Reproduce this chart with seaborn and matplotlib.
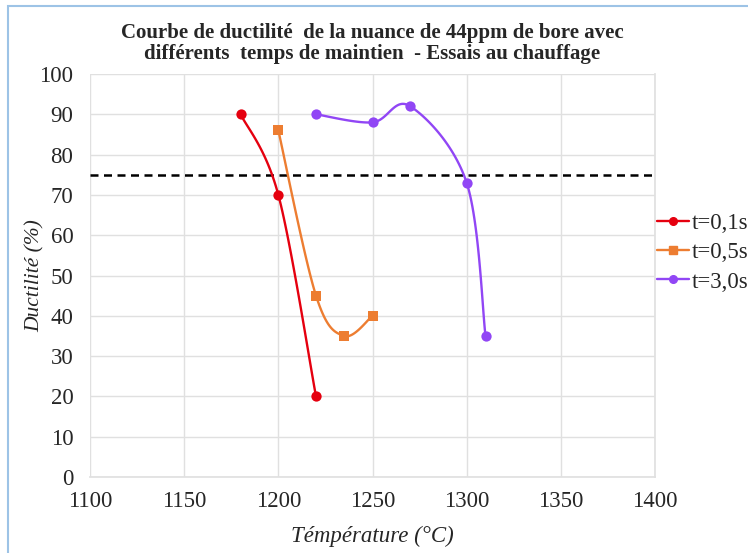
import numpy as np
import pandas as pd
import matplotlib
matplotlib.use('Agg')
import matplotlib.pyplot as plt
from matplotlib.lines import Line2D
from matplotlib.patches import Rectangle
import seaborn as sns

# data
temp_01 = [1180, 1200, 1220]
duct_01 = [90, 70, 20]
temp_05 = [1200, 1220, 1235, 1250]
duct_05 = [86, 45, 35, 40]
temp_30 = [1220, 1250, 1270, 1300, 1310]
duct_30 = [90, 88, 92, 73, 35]
seuil = 75

labels = ['t=0,1s', 't=0,5s', 't=3,0s']
colors = ['#E5000F', '#ED7D31', '#9146F5']
markers = ['o', 's', 'o']

sns.set_theme(style='white')
plt.rcParams['font.family'] = ['Liberation Serif', 'DejaVu Serif']


def smooth(xs, ys, sx=1.89, sy=4.04, n=30):
    # excel-style smoothed line (bezier through the points)
    p = np.column_stack([np.array(xs) * sx, np.array(ys) * sy]).astype(float)
    pts = []
    for i in range(len(p) - 1):
        p0 = p[i - 1] if i > 0 else p[i]
        p1, p2 = p[i], p[i + 1]
        p3 = p[i + 2] if i + 2 < len(p) else p[i + 1]
        c1 = p1 + (p2 - p0) / 6
        c2 = p2 - (p3 - p1) / 6
        t = np.linspace(0, 1, n)[:, None]
        seg = (1 - t) ** 3 * p1 + 3 * (1 - t) ** 2 * t * c1 + 3 * (1 - t) * t ** 2 * c2 + t ** 3 * p2
        pts.append(seg if i == 0 else seg[1:])
    pts = np.vstack(pts)
    return pts[:, 0] / sx, pts[:, 1] / sy


fig = plt.figure(figsize=(7.48, 5.53), dpi=100)
ax = fig.add_axes([0.1203, 0.1374, 0.7554, 0.7288])

series = [(temp_01, duct_01), (temp_05, duct_05), (temp_30, duct_30)]
for (xs, ys), lab, col, mk in zip(series, labels, colors, markers):
    cx, cy = smooth(xs, ys)
    curve = pd.DataFrame({'T': cx, 'D': cy})
    sns.lineplot(data=curve, x='T', y='D', sort=False, estimator=None,
                 color=col, linewidth=1.7, ax=ax, zorder=3)
    pts = pd.DataFrame({'T': xs, 'D': ys})
    sns.scatterplot(data=pts, x='T', y='D', marker=mk, color=col,
                    s=55, linewidth=0, ax=ax, zorder=4)

ax.axhline(seuil, color='black', linestyle=(0, (3.2, 2.2)), linewidth=1.8, zorder=2)

ax.set_xlim(1100, 1400)
ax.set_ylim(0, 100)
ax.set_xticks(range(1100, 1401, 50))
ax.set_yticks(range(0, 101, 10))
ax.grid(True, color='#e0e0e0', linewidth=1.0)
for side in ['left', 'top']:
    ax.spines[side].set_visible(False)
for side in ['right', 'bottom']:
    ax.spines[side].set_color('#e0e0e0')
ax.tick_params(axis='both', labelsize=16.5, colors='#262626', length=0)
ax.tick_params(axis='x', pad=10)
ax.tick_params(axis='y', pad=12)
ax.set_xlabel('Témpérature (°C)', fontsize=16.5, style='italic', color='#262626', labelpad=10)
ax.set_ylabel('Ductilité (%)', fontsize=15.5, style='italic', color='#262626', labelpad=-4)
ax.set_title('Courbe de ductilité  de la nuance de 44ppm de bore avec\n'
             'différents  temps de maintien  - Essais au chauffage',
             fontsize=15, fontweight='bold', color='#262626', pad=11, linespacing=1.05)

handles = [Line2D([], [], color=c, marker=m, markersize=5.5, linewidth=1.7)
           for c, m in zip(colors, markers)]
ax.legend(handles, labels, loc='center left', bbox_to_anchor=(1.0, 0.556),
          frameon=False, fontsize=16.5, handlelength=1.4, handletextpad=0.1,
          borderaxespad=0, borderpad=0.1, labelspacing=0.35)

fig.patches.append(Rectangle((0.011, -0.01), 1.0, 0.999, transform=fig.transFigure,
                             fill=False, edgecolor='#9dc3e6', linewidth=1.5))

fig.savefig('out.png', dpi=100)
